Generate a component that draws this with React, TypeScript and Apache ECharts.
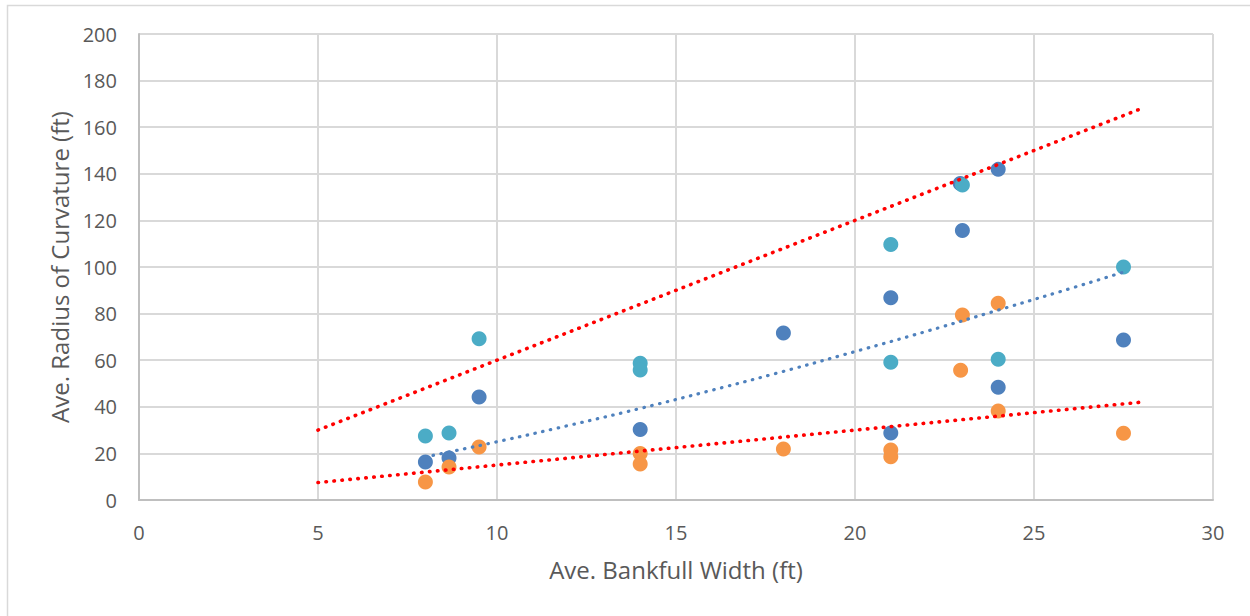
import React, { useEffect, useRef } from "react";
import * as echarts from "echarts";

// Series data (x = Ave. Bankfull Width, y = Ave. Radius of Curvature)
const blueX = [8, 8.66, 9.5, 14, 18, 21, 21, 22.94, 23, 24, 24, 27.5];
const blueY = [16.3, 18, 44.2, 30.3, 71.7, 86.8, 28.8, 135.8, 115.7, 141.9, 48.4, 68.7];
const cyanX = [8, 8.66, 9.5, 14, 14, 21, 21, 23, 24, 27.5];
const cyanY = [27.5, 28.8, 69.2, 58.7, 55.8, 109.7, 59.1, 135.2, 60.4, 100];
const orangeX = [8, 8.66, 9.5, 14, 14, 18, 21, 21, 22.95, 23, 24, 24, 27.5];
const orangeY = [7.7, 14.2, 22.7, 20.0, 15.5, 21.9, 21.5, 18.6, 55.7, 79.4, 84.4, 38.2, 28.6];

// Blue dotted trendline (power-type curve) points
const trendX = [8, 10, 12, 14, 16, 18, 20, 22, 24, 26, 27.5];
const trendY = [18.5, 25.0, 32.0, 39.3, 47.1, 55.2, 63.7, 72.4, 81.5, 90.7, 97.8];

// Red dotted envelope lines
const upperX = [5, 28];
const upperY = [30, 168];
const lowerX = [5, 28];
const lowerY = [7.5, 42];

const X_NAME = "Ave. Bankfull Width (ft)";
const Y_NAME = "Ave. Radius of Curvature (ft)";

const zip = (xs: number[], ys: number[]) => xs.map((x, i) => [x, ys[i]]);

export default function App() {
  const ref = useRef<HTMLDivElement>(null);
  useEffect(() => {
    document.body.style.margin = "0";
    const chart = echarts.init(ref.current!, null, { renderer: "svg" });
    const font = "'Open Sans', sans-serif";
    const textColor = "#595959";
    const dot = (color: string, width: number) => ({
      color,
      width,
      opacity: 1,
      type: [0.5, 7.5] as number[],
      cap: "round" as const,
    });
    const marker = (color: string) => ({ color, opacity: 1 });
    chart.setOption({
      animation: false,
      backgroundColor: "#ffffff",
      textStyle: { fontFamily: font },
      graphic: [
        {
          type: "rect",
          shape: { x: 7.5, y: 5.5, width: 1260, height: 640 },
          style: { fill: "none", stroke: "#D9D9D9", lineWidth: 1.5 },
          silent: true,
        },
      ],
      grid: { left: 139, right: 37, top: 34, bottom: 116 },
      xAxis: {
        type: "value",
        min: 0,
        max: 30,
        interval: 5,
        name: X_NAME,
        nameLocation: "middle",
        nameGap: 57,
        nameTextStyle: { color: textColor, fontSize: 24, fontFamily: font },
        axisLine: { show: true, lineStyle: { color: "#BFBFBF", width: 2 } },
        axisTick: { show: false },
        axisLabel: { color: textColor, fontSize: 20, margin: 22, fontFamily: font },
        splitLine: { show: true, lineStyle: { color: "#D9D9D9", width: 2 } },
      },
      yAxis: {
        type: "value",
        min: 0,
        max: 200,
        interval: 20,
        name: Y_NAME,
        nameLocation: "middle",
        nameGap: 68,
        nameTextStyle: { color: textColor, fontSize: 24, fontFamily: font },
        axisLine: { show: true, lineStyle: { color: "#BFBFBF", width: 2 } },
        axisTick: { show: false },
        axisLabel: { color: textColor, fontSize: 20, margin: 22, fontFamily: font },
        splitLine: { show: true, lineStyle: { color: "#D9D9D9", width: 2 } },
      },
      series: [
        {
          type: "scatter",
          data: zip(blueX, blueY),
          symbolSize: 15,
          itemStyle: marker("#4F81BD"),
        },
        {
          type: "scatter",
          data: zip(cyanX, cyanY),
          symbolSize: 15,
          itemStyle: marker("#4BACC6"),
        },
        {
          type: "scatter",
          data: zip(orangeX, orangeY),
          symbolSize: 15,
          itemStyle: marker("#F79646"),
        },
        {
          type: "line",
          data: zip(trendX, trendY),
          smooth: true,
          showSymbol: false,
          symbol: "none",
          lineStyle: dot("#4F81BD", 3.2),
        },
        {
          type: "line",
          data: zip(upperX, upperY),
          showSymbol: false,
          symbol: "none",
          lineStyle: dot("#FF0000", 3.6),
        },
        {
          type: "line",
          data: zip(lowerX, lowerY),
          showSymbol: false,
          symbol: "none",
          lineStyle: dot("#FF0000", 3.6),
        },
      ],
    });
    return () => chart.dispose();
  }, []);
  return <div ref={ref} style={{ width: 1250, height: 616 }} />;
}
